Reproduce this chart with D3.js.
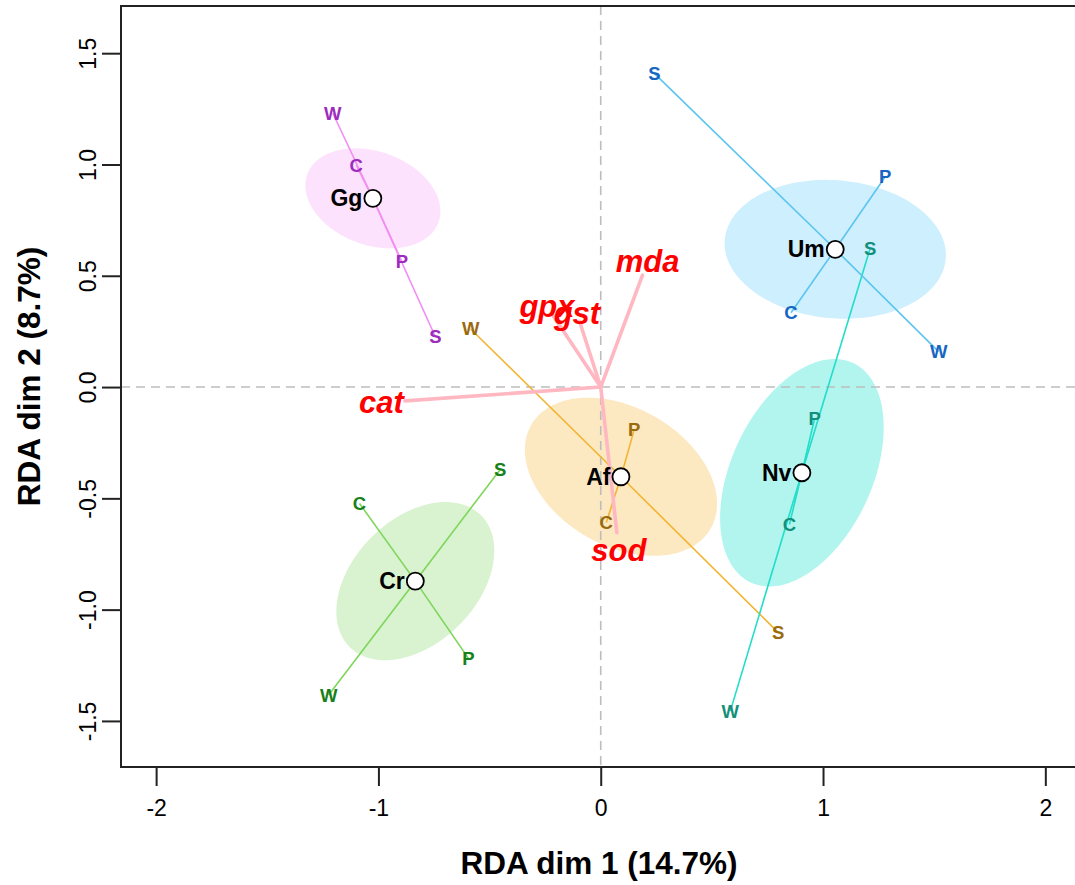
<!DOCTYPE html>
<html>
<head>
<meta charset="utf-8">
<script src="https://cdn.jsdelivr.net/npm/d3@7"></script>
<style>
  html, body { margin: 0; padding: 0; background: #ffffff; }
  svg { display: block; font-family: "Liberation Sans", Arial, Helvetica, sans-serif; }
</style>
</head>
<body>
<svg id="chart" width="1075" height="885"></svg>
<script>
// Groups (species) with their centroid scores on RDA dims 1 and 2
const groups    = ["Af", "Cr", "Gg", "Nv", "Um"];
const centroidX = [0.091, -0.834, -1.025, 0.905, 1.055];
const centroidY = [-0.403, -0.872, 0.848, -0.385, 0.619];

// Dispersion ellipses: semi-axes in RDA units and rotation (degrees)
const ellipseA     = [0.466, 0.418, 0.314, 0.544, 0.499];
const ellipseB     = [0.310, 0.279, 0.210, 0.317, 0.310];
const ellipseAngle = [-30, 45, -20, 65, -5];

// Seasonal site scores (S, P, C, W) for each group
const siteGroup  = ["Af","Af","Af","Af", "Cr","Cr","Cr","Cr", "Gg","Gg","Gg","Gg", "Nv","Nv","Nv","Nv", "Um","Um","Um","Um"];
const siteSeason = ["S","P","C","W",     "S","P","C","W",     "S","P","C","W",     "S","P","C","W",     "S","P","C","W"];
const siteX = [0.798, 0.151, 0.025, -0.585,   -0.452, -0.595, -1.085, -1.224,   -0.744, -0.894, -1.100, -1.205,   1.212, 0.962, 0.849, 0.583,   0.241, 1.280, 0.856, 1.520];
const siteY = [-1.102, -0.190, -0.609, 0.261, -0.370, -1.219, -0.523, -1.384,   0.226, 0.563, 0.997, 1.230,     0.623, -0.142, -0.617, -1.456, 1.409, 0.945, 0.334, 0.159];

// Biomarker biplot vectors
const envNames = ["mda", "gpx", "gst", "cat", "sod"];
const envX = [0.188, -0.216, -0.0955, -0.881, 0.0727];
const envY = [0.5026, 0.3237, 0.2955, -0.0622, -0.654];

// Axis ticks
const xTicks = [-2, -1, 0, 1, 2];
const xTickLabels = ["-2", "-1", "0", "1", "2"];
const yTicks = [-1.5, -1, -0.5, 0, 0.5, 1, 1.5];
const yTickLabels = ["-1.5", "-1.0", "-0.5", "0.0", "0.5", "1.0", "1.5"];

const xTitle = "RDA dim 1 (14.7%)";
const yTitle = "RDA dim 2 (8.7%)";

// Palette per group: ellipse fill, spider line, season label
const palette = {
  Af: { fill: "#fce9c1", line: "#f2b433", text: "#9a6a0e" },
  Cr: { fill: "#d9f2d0", line: "#7ed65b", text: "#17801a" },
  Gg: { fill: "#fce2fc", line: "#f28ef2", text: "#9c2cbc" },
  Nv: { fill: "#b1f5ee", line: "#22ddc9", text: "#138f7b" },
  Um: { fill: "#cdeffe", line: "#5cc5ef", text: "#1666c1" }
};

const margin = { left: 121, top: 6, right: 1077, bottom: 767 };

const svg = d3.select("#chart");

const x = d3.scaleLinear().domain([-2.158, 2.1425]).range([margin.left, margin.right]);
const y = d3.scaleLinear().domain([-1.707, 1.712]).range([margin.bottom, margin.top]);

const plot = svg.append("g");
const clipId = "plot-clip";
svg.append("defs").append("clipPath").attr("id", clipId)
  .append("rect")
  .attr("x", margin.left).attr("y", margin.top)
  .attr("width", margin.right - margin.left).attr("height", margin.bottom - margin.top);

const inner = plot.append("g").attr("clip-path", `url(#${clipId})`);

// Ellipses, traced in data space and mapped through the scales
const ellipseLine = d3.line().x(d => x(d[0])).y(d => y(d[1])).curve(d3.curveLinearClosed);
groups.forEach((g, i) => {
  const th = ellipseAngle[i] * Math.PI / 180;
  const pts = d3.range(0, 360, 2).map(deg => {
    const t = deg * Math.PI / 180;
    const ex = ellipseA[i] * Math.cos(t), ey = ellipseB[i] * Math.sin(t);
    return [centroidX[i] + ex * Math.cos(th) - ey * Math.sin(th),
            centroidY[i] + ex * Math.sin(th) + ey * Math.cos(th)];
  });
  inner.append("path").attr("d", ellipseLine(pts))
    .attr("fill", palette[g].fill).attr("stroke", "none");
});

// Zero reference lines
inner.append("line")
  .attr("x1", margin.left).attr("x2", margin.right)
  .attr("y1", y(0)).attr("y2", y(0))
  .attr("stroke", "#bdbdbd").attr("stroke-width", 1.6).attr("stroke-dasharray", "9,6");
inner.append("line")
  .attr("x1", x(0)).attr("x2", x(0))
  .attr("y1", margin.top).attr("y2", margin.bottom)
  .attr("stroke", "#bdbdbd").attr("stroke-width", 1.6).attr("stroke-dasharray", "9,6");

// Spider lines from each centroid to its seasonal sites
siteX.forEach((sx, k) => {
  const gi = groups.indexOf(siteGroup[k]);
  inner.append("line")
    .attr("x1", x(centroidX[gi])).attr("y1", y(centroidY[gi]))
    .attr("x2", x(sx)).attr("y2", y(siteY[k]))
    .attr("stroke", palette[siteGroup[k]].line).attr("stroke-width", 1.6);
});

// Biomarker vectors
envNames.forEach((n, k) => {
  inner.append("line")
    .attr("x1", x(0)).attr("y1", y(0))
    .attr("x2", x(envX[k])).attr("y2", y(envY[k]))
    .attr("stroke", "#ffb7c2").attr("stroke-width", 3.6).attr("stroke-linecap", "round");
});

// Season labels
siteX.forEach((sx, k) => {
  inner.append("text")
    .attr("x", x(sx)).attr("y", y(siteY[k]))
    .attr("text-anchor", "middle").attr("dominant-baseline", "central")
    .attr("font-size", 18.5).attr("font-weight", "bold")
    .attr("fill", palette[siteGroup[k]].text)
    .text(siteSeason[k]);
});

// Biomarker labels just beyond each vector tip
envNames.forEach((n, k) => {
  inner.append("text")
    .attr("x", x(envX[k] * 1.12)).attr("y", y(envY[k] * 1.12))
    .attr("text-anchor", "middle").attr("dominant-baseline", "central")
    .attr("font-size", 31).attr("font-weight", "bold").attr("font-style", "italic")
    .attr("fill", "#ff0000")
    .text(n);
});

// Centroids and group names
groups.forEach((g, i) => {
  inner.append("circle")
    .attr("cx", x(centroidX[i])).attr("cy", y(centroidY[i])).attr("r", 8.5)
    .attr("fill", "#ffffff").attr("stroke", "#000000").attr("stroke-width", 1.8);
  inner.append("text")
    .attr("x", x(centroidX[i]) - 10.5).attr("y", y(centroidY[i]))
    .attr("text-anchor", "end").attr("dominant-baseline", "central")
    .attr("font-size", 23).attr("font-weight", "bold").attr("fill", "#000000")
    .text(g);
});

// Plot frame
plot.append("rect")
  .attr("x", margin.left).attr("y", margin.top)
  .attr("width", margin.right - margin.left).attr("height", margin.bottom - margin.top)
  .attr("fill", "none").attr("stroke", "#222222").attr("stroke-width", 2);

// Axes
const xAxis = d3.axisBottom(x).tickValues(xTicks)
  .tickFormat((d, i) => xTickLabels[i]).tickSize(19).tickPadding(14);
const gx = svg.append("g").attr("transform", `translate(0,${margin.bottom})`).call(xAxis);
gx.select(".domain").remove();
gx.selectAll(".tick line").attr("stroke", "#222222").attr("stroke-width", 2);
gx.selectAll(".tick text").attr("font-size", 23).attr("fill", "#000000")
  .attr("font-family", "'Liberation Sans', Arial, sans-serif");

const yAxis = d3.axisLeft(y).tickValues(yTicks)
  .tickFormat((d, i) => yTickLabels[i]).tickSize(19);
const gy = svg.append("g").attr("transform", `translate(${margin.left},0)`).call(yAxis);
gy.select(".domain").remove();
gy.selectAll(".tick line").attr("stroke", "#222222").attr("stroke-width", 2);
gy.selectAll(".tick text")
  .attr("transform", "rotate(-90)")
  .attr("x", 0).attr("y", -25).attr("dy", null)
  .attr("text-anchor", "middle")
  .attr("font-size", 23).attr("fill", "#000000")
  .attr("font-family", "'Liberation Sans', Arial, sans-serif");

// Axis titles
svg.append("text")
  .attr("x", (margin.left + margin.right) / 2).attr("y", 874)
  .attr("text-anchor", "middle")
  .attr("font-size", 31.5).attr("font-weight", "bold").attr("fill", "#000000")
  .text(xTitle);
svg.append("text")
  .attr("transform", `translate(40,${(margin.top + margin.bottom) / 2 - 10}) rotate(-90)`)
  .attr("text-anchor", "middle")
  .attr("font-size", 31.5).attr("font-weight", "bold").attr("fill", "#000000")
  .text(yTitle);
</script>
</body>
</html>
